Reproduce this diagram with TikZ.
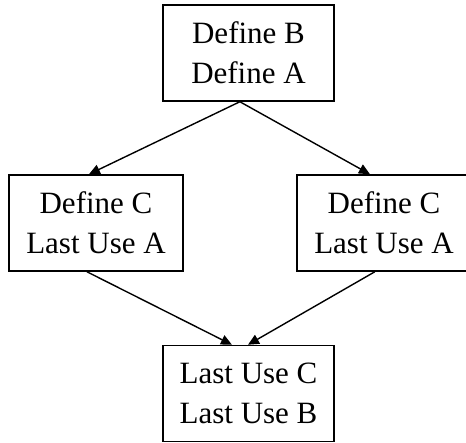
\documentclass[tikz,border=0pt]{standalone}
\usepackage{fontspec}
\setmainfont{Liberation Serif}
\usetikzlibrary{arrows.meta,calc}
\tikzset{
  blockbox/.style={draw=black, line width=1.5pt, rectangle, inner sep=0pt,
    minimum width=171pt, minimum height=96pt, align=center,
    font=\fontsize{31pt}{40pt}\selectfont},
  sidebox/.style={blockbox, minimum width=174pt},
  flow/.style={line width=1.4pt, -{Triangle[length=11pt,width=10pt]}},
}
\begin{document}
\begin{tikzpicture}[x=1pt,y=1pt]
\useasboundingbox (0,0) rectangle (466,443);
\clip (0,0) rectangle (466,443);
\node[blockbox] (top) at (248.5,390) {Define B\\Define A};
\node[sidebox] (left) at (96,220) {Define C\\Last Use A};
\node[sidebox] (right) at (384,220) {Define C\\Last Use A};
\node[blockbox] (bot) at (248.5,49.5) {Last Use C\\Last Use B};
\coordinate (ts) at ($(top.south west)!0.45!(top.south east)$);
\draw[flow] (ts) -- ($(left.north west)!0.46!(left.north east)$);
\draw[flow] (ts) -- ($(right.north west)!0.42!(right.north east)$);
\draw[flow] ($(left.south west)!0.448!(left.south east)$) -- ($(bot.north west)!0.404!(bot.north east)$);
\draw[flow] ($(right.south west)!0.448!(right.south east)$) -- ($(bot.north west)!0.497!(bot.north east)$);
\end{tikzpicture}
\end{document}
